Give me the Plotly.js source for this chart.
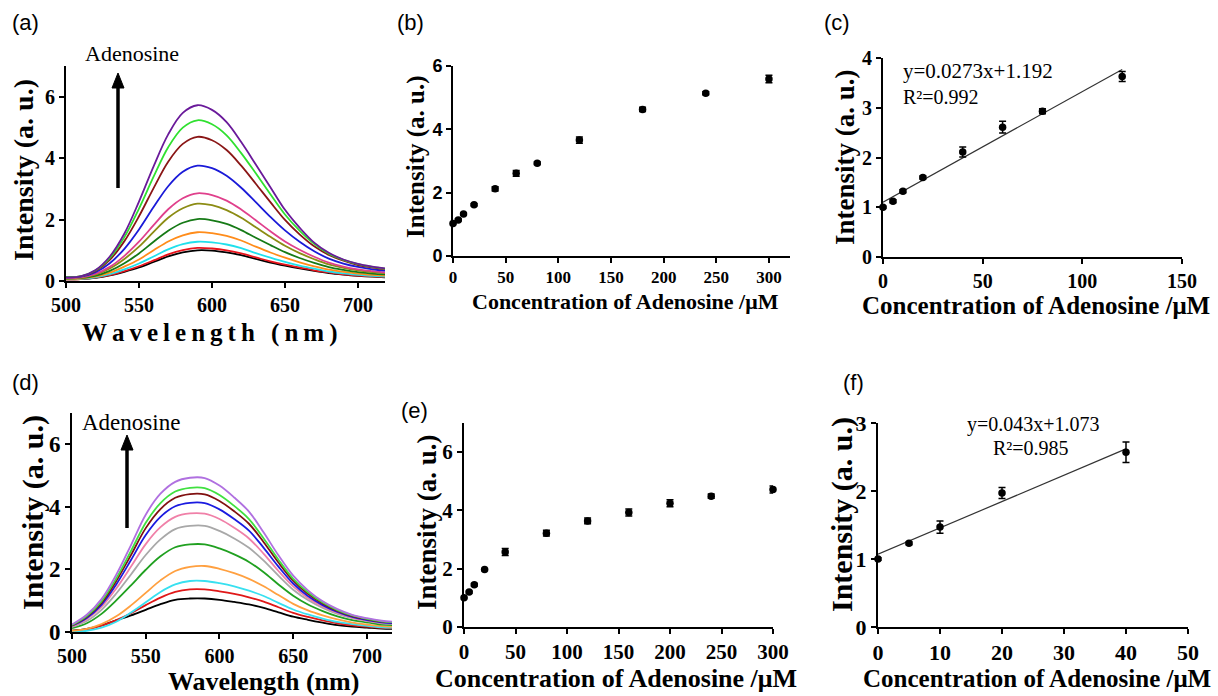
<!DOCTYPE html>
<html><head><meta charset="utf-8">
<script src="https://cdn.plot.ly/plotly-3.0.1.min.js"></script>
<style>html,body{margin:0;padding:0;background:#fff}#chart{width:1218px;height:696px}</style>
</head><body><div id="chart"></div>
<script>
// ---------- DATA ----------
const wavelengths = [500,510,520,530,540,550,560,570,580,590,600,610,620,630,640,650,660,670,680,690,700,710,720];

// Panel (a) spectra (bottom to top)
const aBlack  = [0.05,0.06,0.10,0.18,0.30,0.44,0.62,0.80,0.93,1.00,0.99,0.93,0.84,0.72,0.60,0.50,0.41,0.33,0.26,0.21,0.17,0.14,0.12];
const aRed    = [0.05,0.06,0.11,0.19,0.32,0.48,0.67,0.87,1.01,1.08,1.06,1.00,0.90,0.77,0.64,0.53,0.44,0.35,0.28,0.22,0.18,0.15,0.13];
const aCyan   = [0.06,0.07,0.12,0.22,0.38,0.57,0.80,1.03,1.20,1.28,1.26,1.19,1.07,0.91,0.76,0.62,0.50,0.40,0.31,0.25,0.20,0.17,0.14];
const aOrange = [0.07,0.08,0.14,0.27,0.47,0.70,1.00,1.29,1.49,1.59,1.56,1.47,1.32,1.12,0.93,0.76,0.61,0.48,0.37,0.30,0.24,0.20,0.17];
const aDkGreen= [0.08,0.10,0.17,0.33,0.58,0.90,1.28,1.64,1.90,2.02,1.98,1.86,1.66,1.41,1.17,0.94,0.75,0.59,0.45,0.36,0.29,0.24,0.21];
const aOlive  = [0.09,0.11,0.21,0.41,0.72,1.12,1.60,2.06,2.37,2.52,2.47,2.31,2.06,1.75,1.44,1.15,0.91,0.71,0.54,0.43,0.35,0.29,0.25];
const aPink   = [0.10,0.12,0.23,0.46,0.82,1.28,1.82,2.34,2.70,2.86,2.80,2.62,2.33,1.98,1.62,1.29,1.02,0.79,0.60,0.47,0.38,0.32,0.27];
const aBlue   = [0.12,0.14,0.28,0.58,1.05,1.68,2.41,3.09,3.56,3.76,3.68,3.43,3.04,2.57,2.09,1.65,1.28,0.97,0.73,0.57,0.46,0.38,0.33];
const aMaroon = [0.13,0.15,0.32,0.69,1.30,2.11,3.03,3.89,4.47,4.70,4.59,4.27,3.76,3.17,2.57,1.99,1.52,1.13,0.85,0.66,0.52,0.44,0.38];
const aGreen  = [0.13,0.15,0.34,0.75,1.43,2.36,3.40,4.36,5.00,5.24,5.11,4.75,4.17,3.51,2.83,2.17,1.64,1.21,0.89,0.69,0.55,0.46,0.39];
const aPurple = [0.12,0.15,0.35,0.80,1.55,2.59,3.74,4.78,5.48,5.73,5.58,5.18,4.53,3.80,3.06,2.32,1.74,1.25,0.92,0.70,0.56,0.47,0.40];
const aSeries = [aBlack,aRed,aCyan,aOrange,aDkGreen,aOlive,aPink,aBlue,aMaroon,aGreen,aPurple];
const aColors = ['#000000','#e8141c','#20e0ec','#ff8c1a','#167a16','#8c8c14','#e0408c','#1a1ad8','#8a1616','#30e030','#6a1a9a'];

// Panel (d) spectra (bottom to top)
const dBlack  = [0.04,0.10,0.21,0.37,0.53,0.71,0.89,1.03,1.07,1.07,1.03,0.96,0.88,0.77,0.63,0.49,0.39,0.30,0.22,0.17,0.14,0.11,0.10];
const dRed    = [0.03,0.08,0.20,0.38,0.60,0.86,1.10,1.28,1.36,1.36,1.30,1.22,1.11,0.97,0.79,0.61,0.48,0.37,0.28,0.21,0.17,0.13,0.12];
const dCyan   = [0.01,0.04,0.14,0.33,0.62,0.95,1.28,1.52,1.63,1.63,1.56,1.46,1.32,1.15,0.93,0.72,0.56,0.43,0.32,0.25,0.20,0.15,0.14];
const dOrange = [0.04,0.10,0.25,0.50,0.85,1.25,1.65,1.95,2.08,2.11,2.02,1.88,1.70,1.46,1.18,0.90,0.69,0.53,0.40,0.30,0.24,0.19,0.17];
const dGreen  = [0.12,0.28,0.58,1.01,1.49,1.99,2.42,2.71,2.80,2.80,2.67,2.48,2.24,1.91,1.52,1.16,0.88,0.67,0.50,0.38,0.31,0.24,0.22];
const dGray   = [0.16,0.35,0.71,1.23,1.84,2.46,2.96,3.29,3.39,3.39,3.23,2.99,2.69,2.28,1.80,1.35,1.02,0.77,0.58,0.44,0.35,0.28,0.25];
const dPink   = [0.18,0.41,0.80,1.39,2.09,2.81,3.35,3.68,3.79,3.78,3.61,3.33,2.99,2.50,1.95,1.46,1.09,0.82,0.61,0.46,0.37,0.30,0.27];
const dBlue   = [0.20,0.45,0.87,1.52,2.30,3.10,3.68,4.02,4.13,4.12,3.92,3.61,3.24,2.69,2.09,1.55,1.15,0.86,0.64,0.48,0.38,0.31,0.28];
const dMaroon = [0.21,0.49,0.93,1.63,2.46,3.32,3.93,4.29,4.41,4.40,4.19,3.86,3.46,2.87,2.22,1.64,1.22,0.91,0.67,0.51,0.41,0.33,0.30];
const dLime   = [0.22,0.51,0.98,1.71,2.59,3.49,4.12,4.49,4.61,4.60,4.38,4.03,3.61,2.99,2.31,1.70,1.27,0.94,0.70,0.53,0.42,0.34,0.31];
const dViolet = [0.24,0.55,1.05,1.83,2.78,3.75,4.42,4.80,4.93,4.92,4.68,4.30,3.85,3.18,2.45,1.80,1.33,0.98,0.73,0.55,0.44,0.36,0.32];
const dSeries = [dBlack,dRed,dCyan,dOrange,dGreen,dGray,dPink,dBlue,dMaroon,dLime,dViolet];
const dColors = ['#000000','#e01818','#38e0f0','#ffa040','#20a020','#a8a8a8','#f080a8','#1a1ae0','#801010','#40e040','#b070e0'];

// Panel (b)
const bConc = [0,5,10,20,40,60,80,120,180,240,300];
const bInt  = [1.03,1.14,1.33,1.62,2.12,2.61,2.93,3.66,4.63,5.14,5.59];
const bErr  = [0.02,0.03,0.03,0.03,0.07,0.09,0.04,0.10,0.07,0.05,0.12];
// Panel (c)
const cConc = [0,5,10,20,40,60,80,120];
const cInt  = [1.00,1.12,1.32,1.60,2.11,2.61,2.93,3.63];
const cErr  = [0.02,0.03,0.03,0.03,0.10,0.12,0.05,0.10];
const cFitX = [0,120];
const cFitY = [1.10,3.77];
// Panel (e)
const eConc = [0,5,10,20,40,80,120,160,200,240,300];
const eInt  = [1.00,1.20,1.45,1.97,2.57,3.22,3.64,3.93,4.25,4.49,4.72];
const eErr  = [0.02,0.03,0.04,0.03,0.12,0.10,0.10,0.12,0.12,0.07,0.12];
// Panel (f)
const fConc = [0,5,10,20,40];
const fInt  = [1.00,1.23,1.47,1.97,2.57];
const fErr  = [0.02,0.02,0.09,0.08,0.15];
const fFitX = [0,40];
const fFitY = [1.07,2.62];

const panelLabels = ['(a)','(b)','(c)','(d)','(e)','(f)'];
const eqC = ['y=0.0273x+1.192','R\u00B2=0.992'];
const eqF = ['y=0.043x+1.073','R\u00B2=0.985'];

// ---------- LAYOUT HELPERS ----------
const W = 1218, H = 696;
const fx = p => p / W;
const fy = p => 1 - p / H;
const SERIF = 'Liberation Serif, Times New Roman, serif';
const SANS = 'Liberation Sans, Arial, sans-serif';

function ax(domPx, range, dtick, tickFont, extra) {
  return Object.assign({
    domain: [fx(domPx[0]), fx(domPx[1])], range: range, dtick: dtick, tick0: range[0],
    showline: true, linecolor: '#000', linewidth: 2, ticks: 'outside', ticklen: 5, tickwidth: 2,
    tickcolor: '#000', showgrid: false, zeroline: false, fixedrange: true,
    tickfont: tickFont
  }, extra || {});
}
function ay(domPx, range, dtick, tickFont) {
  return {
    domain: [fy(domPx[1]), fy(domPx[0])], range: range, dtick: dtick, tick0: 0,
    showline: true, linecolor: '#000', linewidth: 2, ticks: 'outside', ticklen: 5, tickwidth: 2,
    tickcolor: '#000', showgrid: false, zeroline: false, fixedrange: true,
    tickfont: tickFont
  };
}
const tf = s => ({family: SERIF, size: s, color: '#000', weight: 'bold'});
const tfSans = {family: SANS, size: 18, color: '#000', weight: 'bold'};

const traces = [];
aSeries.forEach((s, i) => traces.push({x: wavelengths, y: s, xaxis: 'x', yaxis: 'y', mode: 'lines',
  line: {color: aColors[i], width: 1.8, shape: 'spline', smoothing: 1}, hoverinfo: 'skip'}));
dSeries.forEach((s, i) => traces.push({x: wavelengths, y: s, xaxis: 'x4', yaxis: 'y4', mode: 'lines',
  line: {color: dColors[i], width: 1.8, shape: 'spline', smoothing: 1}, hoverinfo: 'skip'}));

function pts(x, y, err, xa, ya) {
  return {x: x, y: y, xaxis: xa, yaxis: ya, mode: 'markers', cliponaxis: false,
    marker: {color: '#000', size: 7.5},
    error_y: {type: 'data', array: err, visible: true, color: '#000', thickness: 1.5, width: 3.5}};
}
function fit(x, y, xa, ya) {
  return {x: x, y: y, xaxis: xa, yaxis: ya, mode: 'lines', line: {color: '#333', width: 1.2}, cliponaxis: false};
}
traces.push(pts(bConc, bInt, bErr, 'x2', 'y2'));
traces.push(fit(cFitX, cFitY, 'x3', 'y3'));
traces.push(pts(cConc, cInt, cErr, 'x3', 'y3'));
traces.push(pts(eConc, eInt, eErr, 'x5', 'y5'));
traces.push(fit(fFitX, fFitY, 'x6', 'y6'));
traces.push(pts(fConc, fInt, fErr, 'x6', 'y6'));

function txt(t, xp, yp, size, opts) {
  return Object.assign({text: t, x: fx(xp), y: fy(yp), xref: 'paper', yref: 'paper', showarrow: false,
    xanchor: 'center', yanchor: 'middle', font: {family: SERIF, size: size, color: '#000', weight: 'bold'}}, opts || {});
}
const ann = [];
// panel labels
const lblPos = [[25,22],[410,22],[837,22],[25,382],[415,410],[853,382]];
panelLabels.forEach((t, i) => ann.push(txt(t, lblPos[i][0], lblPos[i][1], 22, {font: {family: SANS, size: 22, color: '#000'}})));
// y titles
const yT = 'Intensity (a. u.)';
ann.push(txt(yT, 24, 170, 28, {textangle: -90}));
ann.push(txt(yT, 416, 157, 25, {textangle: -90}));
ann.push(txt(yT, 845, 157, 27, {textangle: -90}));
ann.push(txt(yT, 33, 513, 30, {textangle: -90}));
ann.push(txt(yT, 427, 522, 27, {textangle: -90}));
ann.push(txt(yT, 842, 515, 30, {textangle: -90}));
// x titles
const thin = '\u2009';
ann.push(txt('Wavelength (nm)'.split('').join(thin), 209, 333, 25));
ann.push(txt('Wavelength (nm)', 263, 681, 26));
const xT = 'Concentration of Adenosine /μM';
ann.push(txt(xT, 625, 301, 22));
ann.push(txt(xT, 1036, 305, 25));
ann.push(txt(xT, 616, 678, 26));
ann.push(txt(xT, 1037, 678, 25));
// Adenosine labels
ann.push(txt('Adenosine', 132, 54, 22, {font: {family: SERIF, size: 22, color: '#000'}}));
ann.push(txt('Adenosine', 131, 422, 23, {font: {family: SERIF, size: 23, color: '#000'}}));
// equations
const eqFont = s => ({family: SERIF, size: s, color: '#000'});
ann.push(txt(eqC[0], 901, 71, 21, {xanchor: 'left', font: eqFont(21)}));
ann.push(txt(eqC[1], 901, 97, 20, {xanchor: 'left', font: eqFont(20)}));
ann.push(txt(eqF[0], 1033, 424, 20, {font: eqFont(20)}));
ann.push(txt(eqF[1], 1031, 448, 20, {font: eqFont(20)}));

// arrows drawn as shapes (shaft + head)
function arrowShapes(xp, yTail, yHead) {
  const shaft = {type: 'line', xref: 'paper', yref: 'paper', x0: fx(xp), x1: fx(xp), y0: fy(yTail), y1: fy(yHead + 12),
    line: {color: '#000', width: 3.5}};
  const head = {type: 'path', xref: 'paper', yref: 'paper', fillcolor: '#000', line: {color: '#000', width: 1},
    path: `M ${fx(xp-6)} ${fy(yHead+15)} L ${fx(xp+6)} ${fy(yHead+15)} L ${fx(xp)} ${fy(yHead)} Z`};
  return [shaft, head];
}
const shapes = [].concat(arrowShapes(118, 188, 73), arrowShapes(127, 528, 435));

const layout = {
  width: W, height: H, margin: {l: 0, r: 0, t: 0, b: 0}, paper_bgcolor: '#fff', plot_bgcolor: 'rgba(0,0,0,0)',
  showlegend: false, hovermode: false, shapes: shapes,
  xaxis:  ax([66,385], [500,718.5], 50, tf(20), {anchor: 'y'}),
  yaxis:  Object.assign(ay([66.3,281], [0,7], 2, tf(20)), {anchor: 'x', tickvals: [0,2,4,6]}),
  xaxis2: ax([453,790], [0,320], 50, tf(17), {anchor: 'y2'}),
  yaxis2: Object.assign(ay([66,256], [0,6], 2, tfSans), {anchor: 'x2'}),
  xaxis3: ax([883,1182], [0,150], 50, tf(20), {anchor: 'y3'}),
  yaxis3: Object.assign(ay([58,257], [0,4], 1, tf(20)), {anchor: 'x3'}),
  xaxis4: ax([72,392], [500,717], 50, tf(20), {anchor: 'y4'}),
  yaxis4: Object.assign(ay([413,632], [0,7], 2, tf(23)), {anchor: 'x4', tickvals: [0,2,4,6]}),
  xaxis5: ax([464,773], [0,300], 50, tf(21), {anchor: 'y5'}),
  yaxis5: Object.assign(ay([423,627], [0,7], 2, tf(21)), {anchor: 'x5', tickvals: [0,2,4,6]}),
  xaxis6: ax([878,1188], [0,50], 10, tf(22), {anchor: 'y6'}),
  yaxis6: Object.assign(ay([423,627], [0,3], 1, tf(22)), {anchor: 'x6'}),
  annotations: ann
};
Plotly.newPlot('chart', traces, layout, {staticPlot: true, displayModeBar: false});
</script></body></html>
